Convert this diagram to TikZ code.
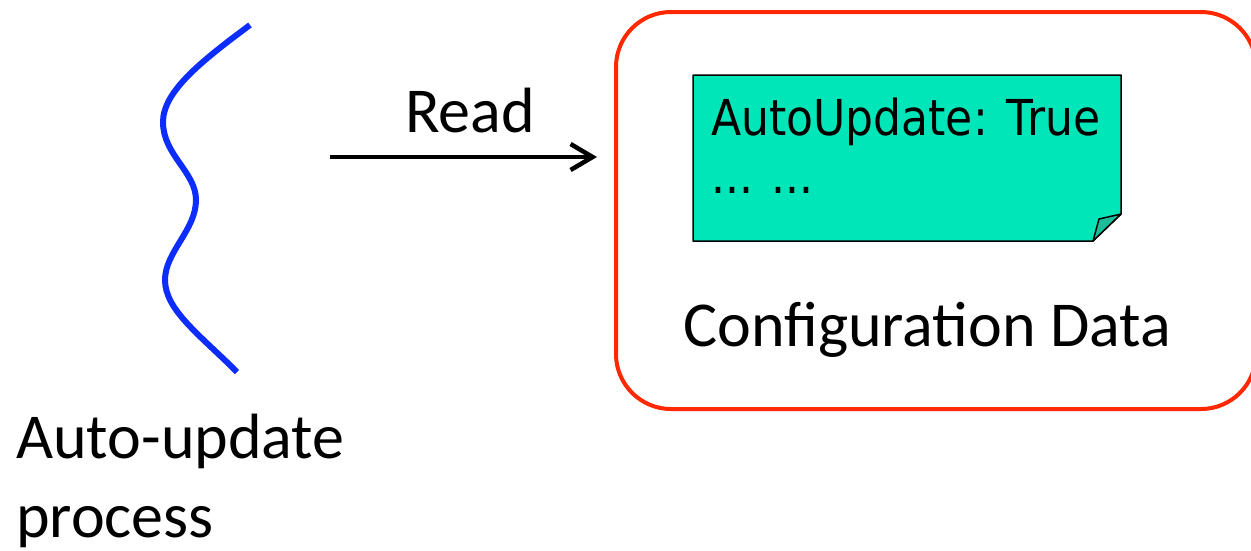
\documentclass[tikz,border=0pt]{standalone}
\usepackage{fontspec}
\setmainfont{Carlito}
\newfontfamily\notefont{DejaVu Sans}[FakeStretch=0.89]
\usetikzlibrary{arrows.meta}
\definecolor{procblue}{RGB}{13,45,255}
\definecolor{boxred}{RGB}{255,40,0}
\definecolor{notegreen}{RGB}{0,230,185}
\definecolor{foldgreen}{RGB}{26,190,154}
\begin{document}
\begin{tikzpicture}[x=1pt,y=-1pt,
  biglabel/.style={font=\fontsize{64}{79}\selectfont, inner sep=0pt, anchor=base west},
  notetext/.style={font=\notefont\fontsize{49.5}{58}\selectfont, inner sep=0pt, anchor=base west},
  notepaper/.style={draw=black, line width=1.5pt, line join=round},
  container/.style={draw=boxred, line width=4pt, rounded corners=55pt, inner sep=0pt, anchor=north west},
  flow/.style={line width=4.5pt, -{Straight Barb[length=22pt,width=26pt,line width=4.5pt]}}]
\useasboundingbox (0,0) rectangle (1251,550);

% wavy process line
\draw[procblue, line width=6pt] (250,25)
  .. controls (200,62) and (163,92) .. (163,122)
  .. controls (163,155) and (196,172) .. (196,200)
  .. controls (196,230) and (165,252) .. (165,280)
  .. controls (165,310) and (200,335) .. (237,372);
\node[biglabel, align=left] (proclabel) at (16,537) {Auto-update\\process};

% configuration container
\node[container, minimum width=640pt, minimum height=397pt] (config) at (614,10) {};
\node[biglabel] (cfglabel) at (683,346) {Configuration Data};

% sticky note with folded corner
\coordinate (nw) at (693,75);
\coordinate (ne) at (1121,75);
\coordinate (foldtop) at (1121,214);
\coordinate (foldbot) at (1093,241);
\coordinate (foldin) at (1099,219);
\coordinate (sw) at (693,241);
\fill[notegreen] (nw) -- (ne) -- (foldtop) -- (foldbot) -- (sw) -- cycle;
\draw[notepaper] (nw) -- (ne) -- (foldtop) -- (foldbot) -- (sw) -- cycle;
\draw[notepaper, fill=foldgreen] (foldtop) -- (foldin) -- (foldbot) -- cycle;
\node[notetext] (notekey) at (711,135) {AutoUpdate: True};
\node[notetext] (notemore) at (711,193) {... ...};

% read arrow
\coordinate (readfrom) at (330,157);
\coordinate (readto) at (597,157);
\draw[flow] (readfrom) -- (readto);
\node[biglabel] (readlabel) at (405,132) {Read};
\end{tikzpicture}
\end{document}
